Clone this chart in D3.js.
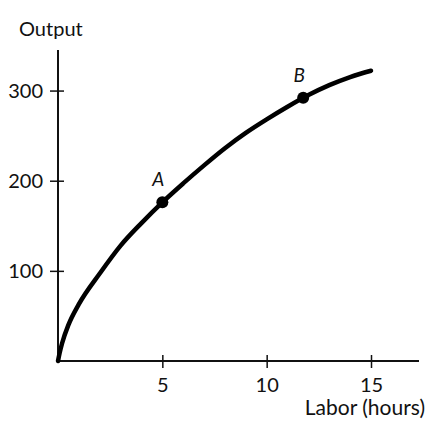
<!DOCTYPE html>
<html><head><meta charset="utf-8">
<script src="https://cdn.jsdelivr.net/npm/d3@7"></script>
<style>body{margin:0;background:#fff}svg{display:block}text{font-family:Lato,"Open Sans",sans-serif;fill:#111}</style>
</head><body>
<script>
const labor  = [0, 0.08, 0.2, 0.5, 1, 2, 3, 4, 5, 6, 7, 8, 9, 10, 11, 12, 13, 14, 15];
const output = [0, 9, 20, 40, 63, 97, 128, 153, 176, 197, 217, 236, 253, 268, 282, 295, 306, 315, 322];
const pointNames = ["A", "B"];
const pointLabor = [5, 11.75];
const pointOutput = [176, 292];
const xTicks = [5, 10, 15];
const yTicks = [100, 200, 300];

const W = 432, H = 428;
const svg = d3.select("body").append("svg").attr("width", W).attr("height", H);
const x = d3.scaleLinear().domain([0, 17.3]).range([58, 419]);
const y = d3.scaleLinear().domain([0, 345]).range([361, 50]);

// axes
svg.append("line").attr("x1", x(0)).attr("x2", x(17.3)).attr("y1", y(0)).attr("y2", y(0))
  .attr("stroke", "#111").attr("stroke-width", 2);
svg.append("line").attr("x1", x(0)).attr("x2", x(0)).attr("y1", y(0)).attr("y2", y(345))
  .attr("stroke", "#111").attr("stroke-width", 2);

const xa = svg.append("g").attr("transform", `translate(0,${y(0)})`)
  .call(d3.axisBottom(x).tickValues(xTicks).tickSize(0).tickPadding(0));
xa.select(".domain").remove();
xa.selectAll(".tick line").attr("y1", -6).attr("y2", 7).attr("stroke", "#111").attr("stroke-width", 1.5);
xa.selectAll(".tick text").attr("y", 31).attr("dy", null).attr("font-size", 20).attr("fill", "#111")
  .style("font-family", "Lato, sans-serif");

const ya = svg.append("g").attr("transform", `translate(${x(0)},0)`)
  .call(d3.axisLeft(y).tickValues(yTicks).tickSize(0).tickPadding(0));
ya.select(".domain").remove();
ya.selectAll(".tick line").attr("x1", -8).attr("x2", 6).attr("stroke", "#111").attr("stroke-width", 1.5);
ya.selectAll(".tick text").attr("x", -15).attr("dy", "0.35em").attr("font-size", 20).attr("fill", "#111")
  .style("font-family", "Lato, sans-serif");

svg.append("text").attr("x", 19).attr("y", 36).attr("font-size", 20).text("Output");
svg.append("text").attr("x", 425).attr("y", 415).attr("text-anchor", "end").attr("font-size", 21).text("Labor (hours)");

// curve
const line = d3.line().x((d, i) => x(labor[i])).y((d, i) => y(output[i])).curve(d3.curveMonotoneX);
svg.append("path").datum(labor).attr("d", line).attr("fill", "none")
  .attr("stroke", "#000").attr("stroke-width", 4.5).attr("stroke-linecap", "round");

// points
pointNames.forEach((n, i) => {
  svg.append("circle").attr("cx", x(pointLabor[i])).attr("cy", y(pointOutput[i])).attr("r", 6).attr("fill", "#000");
  svg.append("text").attr("x", x(pointLabor[i]) - 4).attr("y", y(pointOutput[i]) - 16)
    .attr("text-anchor", "middle").attr("font-size", 19).attr("font-style", "italic").text(n);
});
</script>
</body></html>
